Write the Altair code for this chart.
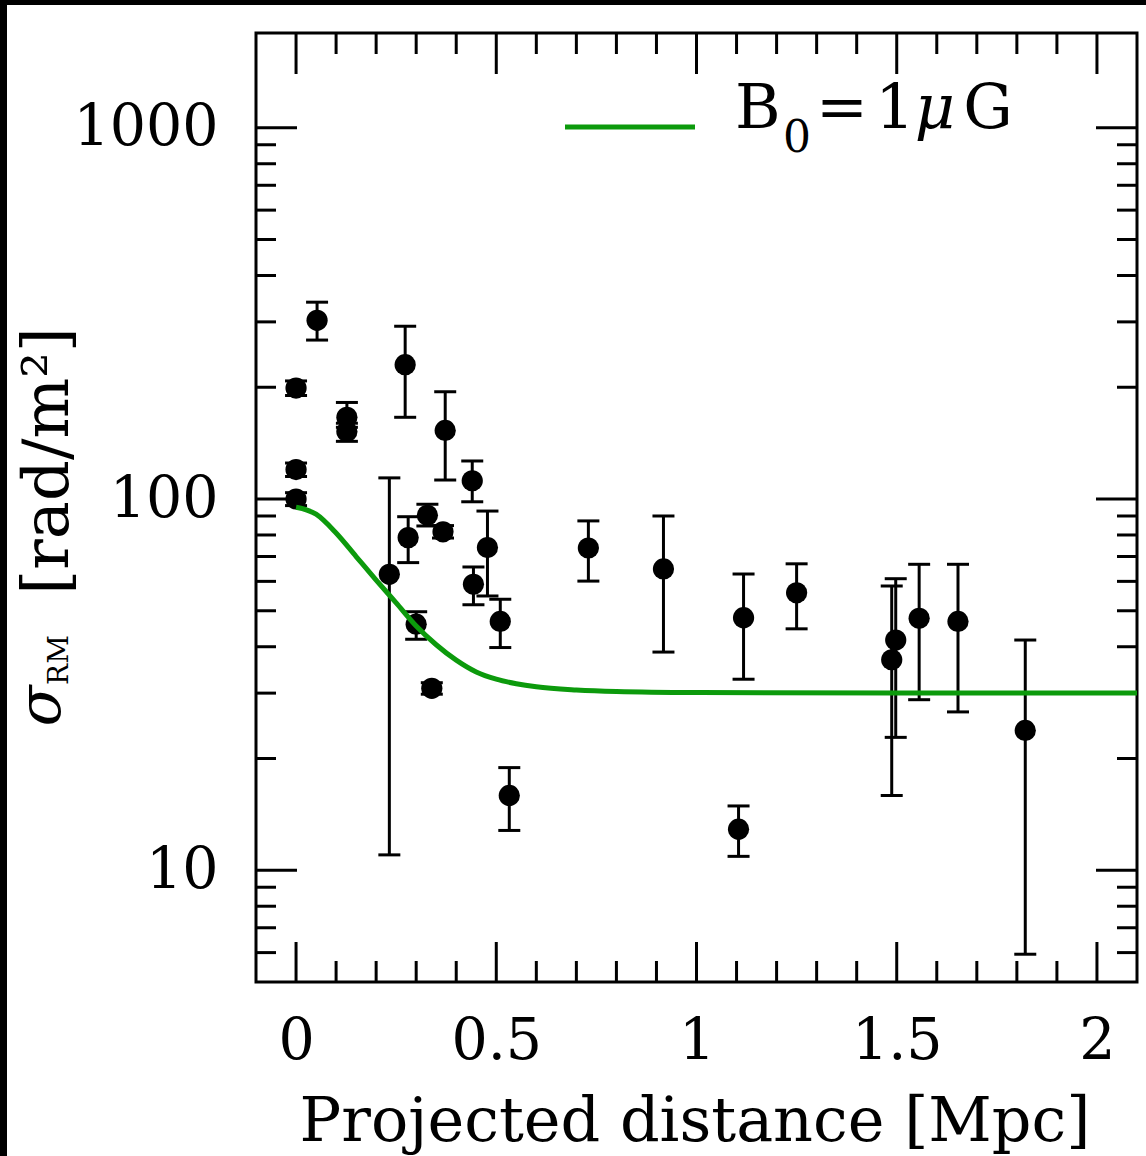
import altair as alt
import pandas as pd

# ---- data ----
dist = [0.0, 0.0, 0.0, 0.0525, 0.127, 0.127, 0.2725, 0.3725, 0.44, 0.28,
        0.328, 0.367, 0.233, 0.30, 0.339, 0.478, 0.443, 0.51, 0.5325, 0.73,
        0.9175, 1.1175, 1.105, 1.25, 1.4875, 1.4975, 1.556, 1.653, 1.821]
sigma = [199, 120, 100, 303, 166, 152, 230, 153, 112, 78.7,
         90.4, 81.6, 62.7, 46, 30.9, 74, 58.9, 46.8, 15.9, 73.8,
         64.8, 47.9, 12.9, 55.9, 36.9, 41.7, 47.7, 46.8, 23.8]
sigma_lo = [190, 115, 96, 268, 156, 143, 166, 112.5, 98.3, 67.4,
            84.6, 78.5, 11, 41.9, 29.8, 54.8, 51.9, 39.8, 12.8, 60.1,
            38.7, 32.7, 10.9, 44.7, 15.9, 22.8, 28.8, 26.7, 5.94]
sigma_hi = [208, 125, 104, 339, 182, 160, 292, 194.5, 126.6, 89.6,
            96.8, 84.8, 114, 49.7, 32, 92.8, 65.6, 53.7, 18.9, 87.3,
            90, 62.8, 14.9, 66.9, 58.3, 61, 66.7, 66.7, 41.7]

curve_x = [0.0, 0.05, 0.1, 0.15, 0.2, 0.25, 0.3, 0.35, 0.4, 0.45, 0.5,
           0.55, 0.6, 0.7, 0.8, 1.0, 1.5, 2.1]
curve_y = [95, 91, 81, 70, 60.5, 52.5, 45.5, 40.5, 36.8, 34.2, 32.7,
           31.8, 31.2, 30.6, 30.3, 30.1, 30.0, 30.0]

x_major = [0, 0.5, 1, 1.5, 2]
x_minor = [0.1, 0.2, 0.3, 0.4, 0.6, 0.7, 0.8, 0.9, 1.1, 1.2, 1.3, 1.4,
           1.6, 1.7, 1.8, 1.9]
y_major = [10, 100, 1000]
y_minor = [6, 7, 8, 9, 20, 30, 40, 50, 60, 70, 80, 90,
           200, 300, 400, 500, 600, 700, 800, 900]

legend_label = ["B", "0", "=", "1", "μ", "G"]
ytitle_parts = ["σ", "RM", "[rad/m²]"]
xtitle = "Projected distance [Mpc]"

GREEN = "#0c9a0c"
FONT = "DejaVu Serif"
W, H = 881, 949
LW = 3

df = pd.DataFrame({"d": dist, "s": sigma, "lo": sigma_lo, "hi": sigma_hi})
curve = pd.DataFrame({"d": curve_x, "s": curve_y})
one = pd.DataFrame({"a": [0]})

xs = alt.Scale(domain=[-0.1, 2.1], nice=False, zero=False)
ys = alt.Scale(type="log", domain=[5, 1800], nice=False)

xaxis = alt.Axis(values=x_major, format="~g", ticks=False, domain=False,
                 grid=False, labelFont=FONT, labelFontSize=57,
                 labelColor="black", labelPadding=31, labelFlush=False,
                 labelOverlap=False, title=None)
yaxis = alt.Axis(values=y_major, format="d", ticks=False, domain=False,
                 grid=False, labelFont=FONT, labelFontSize=57,
                 labelColor="black", labelPadding=38, labelOverlap=False,
                 title=None)


def X(f):
    return alt.X(f, scale=xs, axis=xaxis, title=None)


def Y(f):
    return alt.Y(f, scale=ys, axis=yaxis, title=None)


def xt(vals, length, top):
    d = pd.DataFrame({"t": vals})
    if top:
        yy, yy2 = 0, length
    else:
        yy, yy2 = H, H - length
    return alt.Chart(d).mark_rule(color="black", strokeWidth=LW).encode(
        x=X("t:Q"), y=alt.value(yy), y2=alt.value(yy2))


def yt(vals, length, right):
    d = pd.DataFrame({"t": vals})
    if right:
        xx, xx2 = W, W - length
    else:
        xx, xx2 = 0, length
    return alt.Chart(d).mark_rule(color="black", strokeWidth=LW).encode(
        y=Y("t:Q"), x=alt.value(xx), x2=alt.value(xx2))


ticks = [xt(x_major, 40, False), xt(x_minor, 21, False),
         xt(x_major, 41, True), xt(x_minor, 21, True),
         yt(y_major, 41, False), yt(y_minor, 20, False),
         yt(y_major, 41, True), yt(y_minor, 20, True)]

bars = alt.Chart(df).mark_rule(color="black", strokeWidth=LW).encode(
    x=X("d:Q"), y=Y("lo:Q"), y2="hi:Q")

cap_hi = alt.Chart(df).mark_rule(color="black", strokeWidth=LW,
                                 xOffset=-11, x2Offset=11).encode(
    x=X("d:Q"), x2="d:Q", y=Y("hi:Q"))
cap_lo = alt.Chart(df).mark_rule(color="black", strokeWidth=LW,
                                 xOffset=-11, x2Offset=11).encode(
    x=X("d:Q"), x2="d:Q", y=Y("lo:Q"))

pts = alt.Chart(df).mark_circle(size=450, color="black", opacity=1).encode(
    x=X("d:Q"), y=Y("s:Q"))

line = alt.Chart(curve).mark_line(color=GREEN, strokeWidth=5,
                                  interpolate="monotone").encode(
    x=X("d:Q"), y=Y("s:Q"))

leg_line = alt.Chart(one).mark_rule(color=GREEN, strokeWidth=5).encode(
    x=alt.value(309), x2=alt.value(439), y=alt.value(94))


def txt(t, x, y, size, align="center", angle=0, style="normal",
        baseline="alphabetic"):
    return alt.Chart(one).mark_text(
        text=t, font=FONT, fontSize=size, color="black", align=align,
        baseline=baseline, angle=angle, fontStyle=style).encode(
        x=alt.value(x), y=alt.value(y))


texts = [
    txt(legend_label[0], 479, 95, 62, align="left"),
    txt(legend_label[1], 541, 119, 44),
    txt(legend_label[2], 586, 95, 62),
    txt(legend_label[3], 639, 95, 62),
    txt(legend_label[4], 679, 95, 62, style="italic"),
    txt(legend_label[5], 732, 95, 62),
    txt(ytitle_parts[0], -196, 673, 60, angle=270, style="italic"),
    txt(ytitle_parts[1], -188, 627, 28, angle=270),
    txt(ytitle_parts[2], -188, 428, 64, angle=270),
    txt(xtitle, 439, 1108, 62),
]

strips = [
    alt.Chart(one).mark_rect(color="black").encode(
        x=alt.value(-256), x2=alt.value(W + 9), y=alt.value(-33),
        y2=alt.value(-28)),
    alt.Chart(one).mark_rect(color="black").encode(
        x=alt.value(-256), x2=alt.value(-249), y=alt.value(-33),
        y2=alt.value(H + 174)),
]

chart = alt.layer(
    *strips, *ticks, bars, cap_hi, cap_lo, pts, line, leg_line, *texts
).properties(
    width=W, height=H,
    autosize=alt.AutoSizeParams(type="none"),
    padding={"left": 256, "top": 33, "right": 9, "bottom": 174},
    background="white",
).configure_view(stroke="black", strokeWidth=3)

chart.save("out.html", embed_options={"renderer": "svg", "actions": False})
